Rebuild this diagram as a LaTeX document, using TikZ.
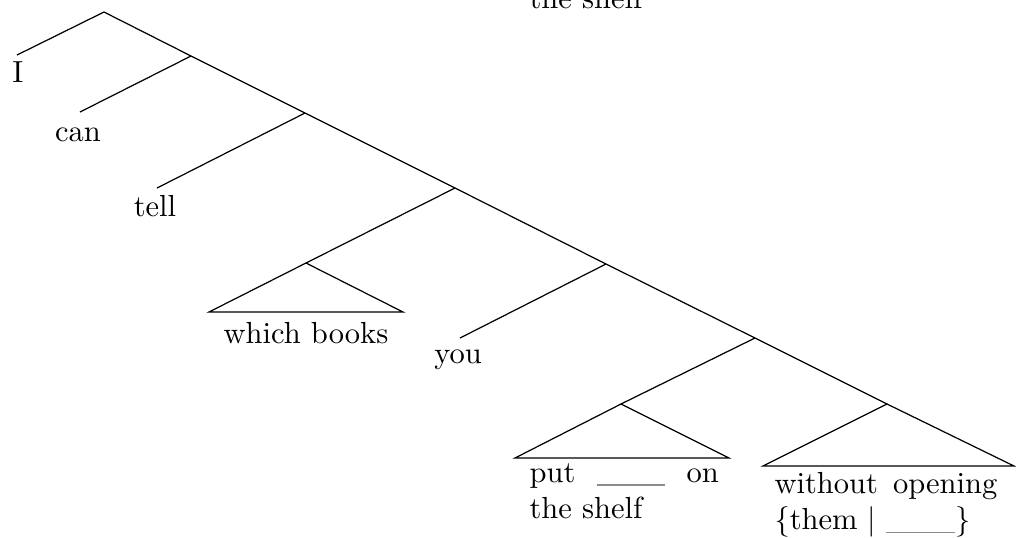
\documentclass[tikz,border=0pt]{standalone}
\usepackage{xcolor}
\newcommand{\gapline}{\textcolor{black!45}{\rule[-1.2pt]{22.5pt}{0.5pt}}}
\begin{document}
\begin{tikzpicture}[x=0.32787pt,y=-0.32787pt,
  leaf/.style={inner sep=0pt, anchor=base},
  para/.style={inner sep=0pt, anchor=base west},
  edge/.style={line width=0.4pt}]
\useasboundingbox (0,0) rectangle (1016,537);
% spine
\coordinate (s0) at (104,12);
\coordinate (s1) at (191,56);
\coordinate (s2) at (305,113);
\coordinate (s3) at (455,188);
\coordinate (s4) at (606,264);
\coordinate (s5) at (755,338);
\coordinate (s6) at (887,404);
% branch ends
\coordinate (eI) at (17,55);
\coordinate (ecan) at (80,112);
\coordinate (etell) at (157,188);
\coordinate (wbA) at (306,263);
\coordinate (wbL) at (209,312);
\coordinate (wbR) at (403,312);
\coordinate (eyou) at (460,338);
\coordinate (puA) at (621,404);
\coordinate (puL) at (515,458);
\coordinate (puR) at (729,458);
\coordinate (woL) at (763,466);
\coordinate (woR) at (1014,466);
% edges
\draw[edge] (eI) -- (s0) -- (s1) -- (s2) -- (s3) -- (s4) -- (s5) -- (s6);
\draw[edge] (s1) -- (ecan);
\draw[edge] (s2) -- (etell);
\draw[edge] (s3) -- (wbA);
\draw[edge] (wbA) -- (wbL) -- (wbR) -- cycle;
\draw[edge] (s4) -- (eyou);
\draw[edge] (s5) -- (puA);
\draw[edge] (puA) -- (puL) -- (puR) -- cycle;
\draw[edge] (s6) -- (woL) -- (woR) -- cycle;
% texts
\node[leaf] (tI) at (18,82) {I};
\node[leaf] (tcan) at (78,141) {can};
\node[leaf] (ttell) at (155,216) {tell};
\node[leaf] (twb) at (306,343) {which books};
\node[leaf] (tyou) at (458,363) {you};
\node[para] (tput) at (529,482) {\parbox[t]{62pt}{put \gapline{} on the shelf}};
\node[para] (two) at (774,493) {\parbox[t]{73pt}{without opening \{them $|$ \gapline\}}};
\node[para] (ttop) at (529,8) {the shelf};
\end{tikzpicture}
\end{document}
